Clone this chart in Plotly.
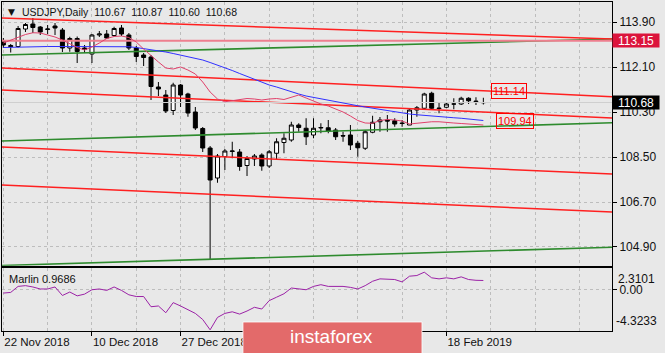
import plotly.graph_objects as go

# ---------------- data ----------------
bar_index = list(range(66))
opens = [113.14, 112.96, 112.92, 113.62, 113.82, 113.70, 113.60, 113.74, 113.58, 112.86,
         113.24, 112.86, 112.62, 113.38, 113.42, 113.36, 113.66, 113.38, 112.86, 112.58,
         112.50, 111.30, 110.98, 110.36, 111.38, 111.02, 110.30, 109.64, 108.86, 107.66,
         108.52, 108.72, 108.70, 108.16, 108.42, 108.58, 108.14, 108.65, 109.08, 109.18,
         109.78, 109.65, 109.38, 109.66, 109.67, 109.58, 109.36, 109.38, 109.05, 108.85,
         109.49, 109.91, 109.98, 109.95, 109.86, 109.78, 110.38, 110.45, 111.05, 110.46,
         110.49, 110.62, 110.62, 110.85, 110.71, 110.67]
highs = [113.26, 113.02, 113.74, 113.86, 114.06, 113.74, 113.78, 113.86, 113.66, 113.31,
         113.32, 112.98, 113.42, 113.54, 113.58, 113.71, 113.78, 113.46, 112.94, 112.66,
         112.58, 111.50, 111.18, 111.47, 111.42, 111.07, 110.50, 109.70, 108.94, 108.62,
         108.82, 109.11, 108.82, 108.54, 108.62, 108.65, 108.78, 109.25, 109.45, 109.91,
         109.85, 110.05, 110.05, 109.85, 109.98, 109.66, 109.51, 109.78, 109.14, 109.58,
         110.15, 110.10, 110.18, 110.05, 109.98, 110.41, 110.54, 111.07, 111.11, 110.67,
         110.67, 110.85, 110.91, 110.89, 110.89, 110.87]
lows = [112.86, 112.68, 112.88, 113.50, 113.46, 113.38, 113.42, 113.38, 112.70, 112.71,
        112.26, 112.66, 112.26, 113.30, 113.22, 113.31, 113.34, 112.78, 112.30, 112.14,
        110.78, 110.94, 110.26, 110.18, 110.50, 110.11, 109.58, 108.70, 104.38, 107.47,
        107.98, 108.45, 107.95, 107.74, 108.14, 107.95, 108.06, 108.38, 108.65, 109.11,
        109.51, 108.98, 109.25, 109.45, 109.45, 109.18, 109.11, 108.78, 108.51, 108.78,
        109.45, 109.51, 109.51, 109.71, 109.71, 109.78, 110.11, 110.38, 110.38, 110.25,
        110.45, 110.41, 110.58, 110.62, 110.58, 110.60]
closes = [112.98, 112.92, 113.64, 113.80, 113.68, 113.50, 113.62, 113.66, 112.86, 113.24,
          112.72, 112.80, 113.38, 113.42, 113.26, 113.64, 113.42, 112.86, 112.52, 112.48,
          111.32, 111.22, 110.34, 111.38, 110.98, 110.26, 109.66, 108.86, 107.58, 108.54,
          108.74, 108.74, 108.12, 108.44, 108.54, 108.14, 108.71, 109.11, 109.25, 109.78,
          109.68, 109.31, 109.65, 109.68, 109.54, 109.31, 109.34, 108.98, 108.87, 109.51,
          109.89, 109.98, 109.94, 109.82, 109.84, 110.38, 110.47, 111.02, 110.45, 110.44,
          110.62, 110.62, 110.85, 110.75, 110.73, 110.68]
ma_fast = [113.06, 113.18, 113.30, 113.40, 113.47, 113.46, 113.38, 113.30, 113.18, 113.02,
           112.88, 112.78, 112.90, 113.06, 113.24, 113.32, 113.34, 113.28, 113.10, 112.82,
           112.54, 112.30, 112.06, 112.02, 112.10, 111.98, 111.82, 111.50, 111.10, 110.82,
           110.71, 110.76, 110.80, 110.84, 110.82, 110.78, 110.82, 110.84, 110.80, 110.90,
           110.98, 110.86, 110.74, 110.62, 110.54, 110.42, 110.30, 110.14, 109.96, 109.86,
           109.85, 109.96, 110.00, 109.98, 109.94, 109.82, 109.86, 109.90, 109.91, 109.91,
           109.90, 109.86, 109.84, 109.82, 109.80, 109.78]
ma_slow = [112.88, 112.89, 112.90, 112.91, 112.92, 112.92, 112.92, 112.92, 112.92, 112.91,
           112.90, 112.89, 112.89, 112.90, 112.91, 112.91, 112.91, 112.91, 112.88, 112.84,
           112.80, 112.76, 112.70, 112.64, 112.58, 112.52, 112.46, 112.38, 112.28, 112.18,
           112.08, 111.96, 111.84, 111.72, 111.60, 111.48, 111.38, 111.30, 111.20, 111.10,
           111.02, 110.94, 110.88, 110.82, 110.76, 110.71, 110.66, 110.60, 110.55, 110.50,
           110.45, 110.40, 110.35, 110.30, 110.26, 110.22, 110.19, 110.16, 110.13, 110.11,
           110.09, 110.07, 110.05, 110.03, 110.00, 109.96]
marlin = [-0.35, -0.28, 0.35, 0.43, 0.29, 0.08, 0.08, 0.29, -0.60, -0.24,
          -0.64, -0.46, 0.00, 0.08, -0.07, 0.29, -0.07, -0.53, -0.71, -0.71,
          -1.78, -1.70, -2.41, -1.35, -1.70, -2.13, -2.48, -3.12, -4.20, -2.90,
          -2.48, -2.31, -2.55, -2.23, -1.84, -2.02, -1.14, -0.78, -0.42, 0.18,
          0.08, 0.00, 0.35, 0.53, 0.35, 0.35, 0.35, 0.25, 0.08, 0.43,
          0.89, 1.14, 1.14, 1.07, 0.82, 1.42, 1.49, 1.84, 1.25, 1.14,
          1.25, 1.14, 1.35, 1.07, 0.99, 0.97]
marlin_last = 0.9686

date_tick_pos = [0, 12, 24, 36, 48, 60]
date_tick_labels = ["22 Nov 2018", "10 Dec 2018", "27 Dec 2018", "15 Jan 2019", "31 Jan 2019", "18 Feb 2019"]
grid_minor_pos = [6, 18, 30, 42, 54, 66, 72, 78]
price_ticks = [104.90, 106.70, 108.50, 110.30, 112.10, 113.90]
marlin_max, marlin_min = 2.3101, -4.3233

# trend lines: price at the left edge and at the right edge of the visible window
red_lines_start = [114.06, 112.06, 111.18, 108.90, 107.38]
red_lines_end = [113.22, 110.91, 110.06, 107.82, 106.30]
green_lines_start = [112.58, 109.14, 104.16]
green_lines_end = [113.22, 109.87, 104.89]
level_line = 113.15
level_labels = [111.14, 109.94]

# ---------------- styling ----------------
X0, X1 = -0.18, 82.42
Y0, Y1 = 104.152, 114.70
BG = "#e8e8e8"
GRID = "#bdbdbd"
FONT = "Liberation Sans"

fig = go.Figure()

for s, e in zip(green_lines_start, green_lines_end):
    fig.add_trace(go.Scatter(x=[X0, X1], y=[s, e], mode="lines",
                             line=dict(color="#2e8b2e", width=1.6), hoverinfo="skip"))
for s, e in zip(red_lines_start, red_lines_end):
    fig.add_trace(go.Scatter(x=[X0, X1], y=[s, e], mode="lines",
                             line=dict(color="#ff2020", width=1.5), hoverinfo="skip"))
fig.add_trace(go.Scatter(x=[X0, X1], y=[level_line, level_line], mode="lines",
                         line=dict(color="#ee7f8f", width=2), hoverinfo="skip"))
# bid line
fig.add_trace(go.Scatter(x=[X0, X1], y=[closes[-1], closes[-1]], mode="lines",
                         line=dict(color="#cfcfcf", width=1), hoverinfo="skip"))

fig.add_trace(go.Candlestick(
    x=bar_index, open=opens, high=highs, low=lows, close=closes,
    increasing=dict(line=dict(color="black", width=1), fillcolor="white"),
    decreasing=dict(line=dict(color="black", width=1), fillcolor="black"),
    whiskerwidth=0, hoverinfo="skip"))

fig.add_trace(go.Scatter(x=bar_index, y=ma_slow, mode="lines",
                         line=dict(color="#3030ff", width=1), hoverinfo="skip"))
fig.add_trace(go.Scatter(x=bar_index, y=ma_fast, mode="lines",
                         line=dict(color="#e0406a", width=1), hoverinfo="skip"))

fig.add_trace(go.Scatter(x=bar_index, y=marlin, mode="lines", xaxis="x2", yaxis="y2",
                         line=dict(color="#9b22a6", width=1), hoverinfo="skip"))

axis_common = dict(showline=True, mirror=True, linecolor="black", linewidth=1,
                   zeroline=False, fixedrange=True)

fig.update_layout(
    width=665, height=353,
    margin=dict(l=2, r=53, t=2, b=22),
    paper_bgcolor=BG, plot_bgcolor=BG,
    showlegend=False, hovermode=False,
    boxgap=0.1, boxgroupgap=0.4,
    font=dict(family=FONT, size=12, color="#111111"),
    xaxis=dict(domain=[0, 1], anchor="y", range=[X0, X1],
               tickvals=date_tick_pos, showticklabels=False, ticks="",
               showgrid=True, gridcolor=GRID, griddash="3px,3px", gridwidth=1,
               minor=dict(tickvals=grid_minor_pos, showgrid=True, gridcolor=GRID,
                          griddash="3px,3px", gridwidth=1, ticks=""),
               rangeslider=dict(visible=False), **axis_common),
    yaxis=dict(domain=[0.1985, 1], anchor="x", side="right", range=[Y0, Y1],
               tickvals=price_ticks, ticktext=[f"{v:.2f}" for v in price_ticks],
               ticks="outside", ticklen=4, tickcolor="black",
               tickfont=dict(size=12, family=FONT, color="#111111"),
               showgrid=True, gridcolor=GRID, griddash="3px,3px", gridwidth=1,
               **axis_common),
    xaxis2=dict(domain=[0, 1], anchor="y2", range=[X0, X1],
                tickvals=date_tick_pos, ticktext=date_tick_labels,
                ticks="outside", ticklen=4, tickcolor="black",
                ticklabelposition="outside right",
                tickfont=dict(size=11.5, family=FONT, color="#111111"),
                showgrid=True, gridcolor=GRID, griddash="3px,3px", gridwidth=1,
                minor=dict(tickvals=grid_minor_pos, showgrid=True, gridcolor=GRID,
                           griddash="3px,3px", gridwidth=1, ticks=""),
                rangeslider=dict(visible=False), **axis_common),
    yaxis2=dict(domain=[0, 0.1924], anchor="x2", side="right",
                range=[marlin_min, marlin_max],
                tickvals=[0], ticktext=["0.00"], ticks="outside", ticklen=4,
                tickcolor="black", tickfont=dict(size=12, family=FONT, color="#111111"),
                showgrid=True, gridcolor=GRID, griddash="3px,3px", gridwidth=1,
                **axis_common),
)

ann = []
# title
ann.append(dict(xref="paper", yref="paper", x=0.0295, y=0.9696, xanchor="left", yanchor="middle",
                text="USDJPY,Daily\u00a0\u00a0" + "\u00a0\u00a0".join(f"{v:.2f}" for v in
                     [opens[-1], highs[-1], lows[-1], closes[-1]]),
                showarrow=False, font=dict(size=10.5, family=FONT, color="#111111")))
ann.append(dict(xref="paper", yref="paper", x=0.0066, y=0.9696, xanchor="left", yanchor="middle",
                text="\u25bc", showarrow=False, font=dict(size=9, family="DejaVu Sans", color="#111111")))
# right-axis boxes
ann.append(dict(xref="paper", yref="y", x=1, y=level_line, xanchor="left", yanchor="middle",
                text=f"{level_line:.2f}", showarrow=False, bgcolor="#dc143c",
                width=46, height=13, borderpad=0, align="center",
                font=dict(size=12, family=FONT, color="white")))
ann.append(dict(xref="paper", yref="y", x=1, y=closes[-1], xanchor="left", yanchor="middle",
                text=f"{closes[-1]:.2f}", showarrow=False, bgcolor="black",
                width=46, height=13, borderpad=0, align="center",
                font=dict(size=12, family=FONT, color="white")))
# boxed level labels
for k, lv in enumerate(level_labels):
    ann.append(dict(xref="x", yref="y", x=bar_index[-1] + 1.1 + 0.65 * k, y=lv,
                    xanchor="left", yanchor="middle", text=f"{lv:.2f}", showarrow=False,
                    bordercolor="#ff0000", borderwidth=1, borderpad=1,
                    font=dict(size=11, family=FONT, color="#ff0000")))
# marlin label
ann.append(dict(xref="paper", yref="y2", x=0.008, y=marlin_max, xanchor="left", yanchor="top",
                yshift=-3, text=f"Marlin {marlin_last:.4f}", showarrow=False,
                font=dict(size=11, family=FONT, color="#111111")))
# marlin scale max/min labels
ann.append(dict(xref="paper", yref="y2", x=1, y=marlin_max, xanchor="left", yanchor="top",
                xshift=4, yshift=-2, text=f"{marlin_max:.4f}", showarrow=False,
                font=dict(size=12, family=FONT, color="#111111")))
ann.append(dict(xref="paper", yref="y2", x=1, y=marlin_min, xanchor="left", yanchor="bottom",
                xshift=2, yshift=1, text=f"{marlin_min:.4f}", showarrow=False,
                font=dict(size=12, family=FONT, color="#111111")))
# logo text
ann.append(dict(xref="paper", yref="paper", x=0.5403, y=-0.0152, xanchor="center", yanchor="middle",
                text="instaforex", showarrow=False,
                font=dict(size=19, family=FONT, color="white")))
fig.update_layout(annotations=ann)

fig.add_shape(type="rect", xref="paper", yref="paper", x0=0.395, x1=0.6885, y0=-0.09, y1=0.0274,
              fillcolor="#e36a6a", line=dict(color="rgba(255,255,255,0.8)", width=1), layer="above")

fig.write_html("out.html")
